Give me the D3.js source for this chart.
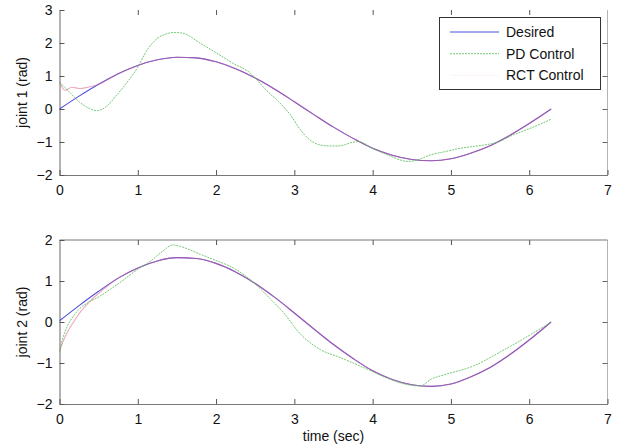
<!DOCTYPE html>
<html><head><meta charset="utf-8">
<script src="https://cdn.jsdelivr.net/npm/d3@7"></script>
<style>body{margin:0;background:#fff}svg{display:block}text{font-family:"Liberation Sans",Arial,sans-serif;fill:#111}</style>
</head><body><svg id="c" width="621" height="447"></svg>
<script>
// ---- data ----
const seriesNames = ["Desired", "PD Control", "RCT Control"];
const xTicks = [0,1,2,3,4,5,6,7];
const y1Ticks = [-2,-1,0,1,2,3];
const y2Ticks = [-2,-1,0,1,2];

const desiredT = [0,0.25,0.5,0.75,1.0,1.25,1.5,1.75,2.0,2.25,2.5,2.75,3.0,3.25,3.5,3.75,4.0,4.25,4.5,4.75,5.0,5.25,5.5,5.75,6.0,6.28];
const desired1 = [0,0.39,0.75,1.07,1.32,1.49,1.57,1.55,1.43,1.22,0.94,0.60,0.22,-0.17,-0.55,-0.89,-1.19,-1.40,-1.53,-1.57,-1.51,-1.34,-1.11,-0.80,-0.44,0];
const desired2 = [0.03,0.40,0.75,1.07,1.32,1.49,1.57,1.55,1.43,1.22,0.94,0.60,0.22,-0.17,-0.55,-0.89,-1.19,-1.40,-1.53,-1.57,-1.51,-1.34,-1.11,-0.80,-0.44,0];

const pd1T = [0,0.14,0.26,0.38,0.48,0.6,0.73,0.86,0.99,1.12,1.25,1.36,1.46,1.57,1.8,2.01,2.22,2.42,2.65,2.8,2.95,3.08,3.2,3.33,3.45,3.55,3.65,3.72,3.82,4.0,4.2,4.36,4.45,4.55,4.74,4.95,5.12,5.3,5.5,5.6,5.8,6.0,6.15,6.28];
const pd1 = [0.82,0.48,0.2,0.02,-0.05,0.08,0.42,0.8,1.23,1.79,2.14,2.27,2.32,2.3,1.99,1.69,1.38,1.12,0.55,0.22,-0.18,-0.64,-0.94,-1.09,-1.12,-1.12,-1.08,-1.02,-0.99,-1.20,-1.40,-1.55,-1.59,-1.56,-1.39,-1.28,-1.19,-1.13,-1.06,-1.0,-0.78,-0.6,-0.45,-0.31];

const rct1T = [0,0.07,0.16,0.26,0.36,0.48,0.75,1.0,1.25,1.5,1.75,2.0,2.25,2.5,2.75,3.0,3.25,3.5,3.75,4.0,4.25,4.5,4.75,5.0,5.25,5.5,5.75,6.0,6.28];
const rct1 = [0.82,0.57,0.66,0.62,0.66,0.73,1.07,1.32,1.49,1.57,1.55,1.43,1.22,0.94,0.60,0.22,-0.17,-0.55,-0.89,-1.19,-1.40,-1.53,-1.57,-1.51,-1.34,-1.11,-0.80,-0.44,0];

const pd2T = [0,0.05,0.09,0.17,0.26,0.37,0.48,0.65,0.8,0.95,1.05,1.16,1.3,1.45,1.55,1.8,2.0,2.22,2.48,2.7,2.86,3.08,3.33,3.59,3.93,4.2,4.45,4.61,4.75,4.91,5.29,5.64,6.06,6.28];
const pd2 = [-0.72,-0.35,-0.14,0.12,0.33,0.48,0.59,0.80,1.0,1.22,1.35,1.48,1.7,1.88,1.84,1.65,1.5,1.32,0.96,0.55,0.23,-0.30,-0.67,-0.87,-1.15,-1.38,-1.53,-1.56,-1.39,-1.29,-1.07,-0.72,-0.26,0];

const rct2T = [0,0.05,0.1,0.18,0.26,0.37,0.5,0.6,0.75,1.0,1.25,1.5,1.75,2.0,2.25,2.5,2.75,3.0,3.25,3.5,3.75,4.0,4.25,4.5,4.75,5.0,5.25,5.5,5.75,6.0,6.28];
const rct2 = [-0.72,-0.45,-0.25,0.0,0.23,0.47,0.7,0.86,1.07,1.32,1.49,1.57,1.55,1.43,1.22,0.94,0.60,0.22,-0.17,-0.55,-0.89,-1.19,-1.40,-1.53,-1.57,-1.51,-1.34,-1.11,-0.80,-0.44,0];

// ---- drawing ----
const svg = d3.select("#c");
const colors = {desired:"#4f4fdc", pd:"#5cbf5c", rct:"#e0608a"};
const x = d3.scaleLinear().domain([0,7]).range([59.5,607.5]);

function zip(t,v){return t.map((d,i)=>[d,v[i]]);}

function panel(yDom, yTicks, top, bottom, ylabel, data, drawTop){
  const y = d3.scaleLinear().domain(yDom).range([bottom, top]);
  const g = svg.append("g");
  // frame
  g.append("line").attr("x1",x(7)).attr("x2",x(7)).attr("y1",top).attr("y2",bottom).attr("stroke","#b4b4b4");
  if(drawTop) g.append("line").attr("x1",x(0)).attr("x2",x(7)).attr("y1",top).attr("y2",top).attr("stroke","#777");
  // axes
  const ax = g.append("g").attr("transform",`translate(0,${bottom})`)
    .call(d3.axisBottom(x).tickValues(xTicks).tickFormat(d3.format("d")).tickSizeInner(-5).tickSizeOuter(0).tickPadding(10));
  ax.select(".domain").attr("stroke","#777");
  ax.selectAll(".tick line").attr("stroke","#555");
  ax.selectAll("text").attr("font-size",14).attr("fill","#111");
  const atop = g.append("g").attr("transform",`translate(0,${top})`)
    .call(d3.axisTop(x).tickValues(xTicks.slice(1,-1)).tickSizeInner(-5).tickSizeOuter(0).tickFormat(""));
  atop.select(".domain").remove();
  atop.selectAll(".tick line").attr("stroke","#555");
  const ay = g.append("g").attr("transform",`translate(${x(0)},0)`)
    .call(d3.axisLeft(y).tickValues(yTicks).tickFormat(d3.format("d")).tickSizeInner(-5).tickSizeOuter(0).tickPadding(7));
  ay.select(".domain").attr("stroke","#666");
  ay.selectAll(".tick line").attr("stroke","#555");
  ay.selectAll("text").attr("font-size",14).attr("fill","#111");
  const ar = g.append("g").attr("transform",`translate(${x(7)},0)`)
    .call(d3.axisRight(y).tickValues(yTicks.slice(1,-1)).tickSizeInner(-5).tickSizeOuter(0).tickFormat(""));
  ar.select(".domain").remove();
  ar.selectAll(".tick line").attr("stroke","#666");
  // label
  g.append("text").attr("transform",`translate(27,${(top+bottom)/2}) rotate(-90)`)
    .attr("text-anchor","middle").attr("font-size",14).text(ylabel);
  // lines
  const line = d3.line().x(d=>x(d[0])).y(d=>y(d[1])).curve(d3.curveMonotoneX);
  g.append("path").datum(data.desired).attr("d",line).attr("fill","none").attr("stroke",colors.desired).attr("stroke-width",1.1);
  g.append("path").datum(data.rct).attr("d",line).attr("fill","none").attr("stroke",colors.rct).attr("stroke-width",1.1).attr("stroke-opacity",0.55);
  g.append("path").datum(data.pd).attr("d",line).attr("fill","none").attr("stroke",colors.pd).attr("stroke-width",1).attr("stroke-opacity",0.85).attr("stroke-dasharray","2,1");
  return g;
}

panel([-2,3], y1Ticks, 10, 175, "joint 1 (rad)",
  {desired:zip(desiredT,desired1), pd:zip(pd1T,pd1), rct:zip(rct1T,rct1)}, false);
panel([-2,2], y2Ticks, 240, 404, "joint 2 (rad)",
  {desired:zip(desiredT,desired2), pd:zip(pd2T,pd2), rct:zip(rct2T,rct2)}, true);

svg.append("text").attr("x",(x(0)+x(7))/2).attr("y",441).attr("text-anchor","middle").attr("font-size",14).text("time (sec)");

// legend
const lg = svg.append("g");
lg.append("rect").attr("x",439.5).attr("y",17.5).attr("width",161).attr("height",72).attr("fill","#fff").attr("stroke","#333");
const legStyles = [
  {c:colors.desired, o:1, dash:null},
  {c:colors.pd, o:0.85, dash:"2,1"},
  {c:colors.rct, o:0.08, dash:null}
];
seriesNames.forEach((n,i)=>{
  const yy = 32 + i*21.7;
  lg.append("line").attr("x1",450).attr("x2",499).attr("y1",yy).attr("y2",yy)
    .attr("stroke",legStyles[i].c).attr("stroke-opacity",legStyles[i].o).attr("stroke-dasharray",legStyles[i].dash);
  lg.append("text").attr("x",506).attr("y",yy+5).attr("font-size",14).text(n);
});
</script></body></html>
